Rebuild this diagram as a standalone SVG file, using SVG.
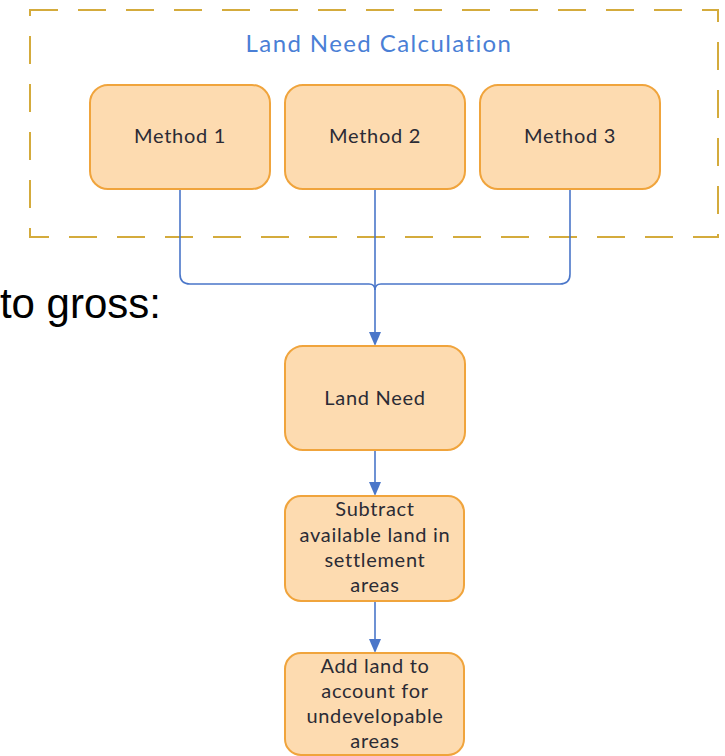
<svg xmlns="http://www.w3.org/2000/svg" width="725" height="756" viewBox="0 0 725 756">
<defs>
<style>
.box{fill:#fddbb0;stroke:#f0a43c;stroke-width:2}
.lbl{font-family:Lato,"Open Sans","DejaVu Sans",sans-serif;font-size:20px;letter-spacing:0.7px;fill:#2b2b35;text-anchor:middle}
.conn{fill:none;stroke:#4a76c9;stroke-width:1.6}
.head{fill:#4a76c9}
</style>
</defs>
<rect width="725" height="756" fill="#ffffff"/>
<g id="container">
<rect x="30" y="10" width="688" height="227" fill="none" stroke="#d4ab3c" stroke-width="2" stroke-dasharray="28 20"/>
<text x="379" y="52" style="font-family:Lato,'Open Sans',sans-serif;font-size:24px;letter-spacing:1.4px;fill:#4a7fd6;text-anchor:middle">Land Need Calculation</text>
</g>
<g id="side-text">
<text x="161" y="318" style="font-family:'Liberation Sans',Arial,sans-serif;font-size:42px;fill:#000;text-anchor:end">to gross:</text>
</g>
<g id="connectors">
<path class="conn" d="M180,189 V274 Q180,284 190,284 H369 Q375,284 375,290"/>
<path class="conn" d="M570,189 V274 Q570,284 560,284 H381 Q375,284 375,290"/>
<path class="conn" d="M375,189 V290"/>
<path class="conn" d="M375,290 V332" stroke-width="2.2"/>
<path class="head" d="M369,332 L381,332 L375,346 Z"/>
<path class="conn" d="M375,450 V482"/>
<path class="head" d="M369,482 L381,482 L375,496 Z"/>
<path class="conn" d="M375,601 V639"/>
<path class="head" d="M369,639 L381,639 L375,653 Z"/>
</g>
<g id="method1">
<rect class="box" x="90" y="85" width="180" height="104" rx="18"/>
<text class="lbl" x="180" y="143">Method 1</text>
</g>
<g id="method2">
<rect class="box" x="285" y="85" width="180" height="104" rx="18"/>
<text class="lbl" x="375" y="143">Method 2</text>
</g>
<g id="method3">
<rect class="box" x="480" y="85" width="180" height="104" rx="18"/>
<text class="lbl" x="570" y="143">Method 3</text>
</g>
<g id="land-need">
<rect class="box" x="285" y="346" width="180" height="104" rx="18"/>
<text class="lbl" x="375" y="405">Land Need</text>
</g>
<g id="subtract">
<rect class="box" x="285" y="496" width="179" height="105" rx="16"/>
<text class="lbl" x="375" y="516">Subtract</text>
<text class="lbl" x="375" y="541.5">available land in</text>
<text class="lbl" x="375" y="567">settlement</text>
<text class="lbl" x="375" y="592">areas</text>
</g>
<g id="add-land">
<rect class="box" x="285" y="653" width="179" height="102" rx="16"/>
<text class="lbl" x="375" y="673">Add land to</text>
<text class="lbl" x="375" y="698">account for</text>
<text class="lbl" x="375" y="723">undevelopable</text>
<text class="lbl" x="375" y="748">areas</text>
</g>
</svg>
